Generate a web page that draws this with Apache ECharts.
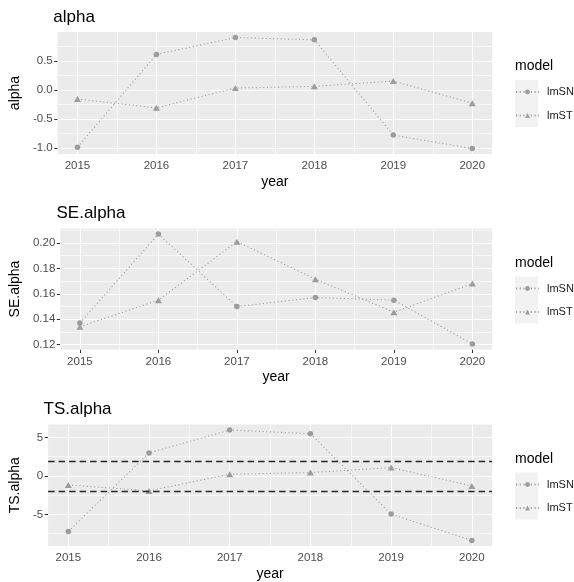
<!DOCTYPE html>
<html>
<head>
<meta charset="utf-8">
<script src="https://cdn.jsdelivr.net/npm/echarts@6/dist/echarts.min.js"></script>
<style>
  html, body { margin: 0; padding: 0; background: #ffffff; }
  #chart { width: 574px; height: 582px; }
</style>
</head>
<body>
<div id="chart"></div>
<script>
// Yearly estimates of alpha for two models, with standard errors and t statistics
const years = [2015, 2016, 2017, 2018, 2019, 2020];
const models = ['lmSN', 'lmST'];

const alphaSN = [-0.99, 0.61, 0.90, 0.86, -0.78, -1.01];
const alphaST = [-0.16, -0.31, 0.03, 0.06, 0.15, -0.23];

const seSN = [0.137, 0.207, 0.150, 0.157, 0.155, 0.1205];
const seST = [0.134, 0.155, 0.201, 0.1715, 0.1455, 0.168];

const tsSN = [-7.23, 2.99, 5.97, 5.49, -4.97, -8.40];
const tsST = [-1.17, -1.95, 0.22, 0.43, 1.08, -1.30];

// tick values and minor grid values
const yearTicks = [2015, 2016, 2017, 2018, 2019, 2020];
const yearMinor = [2015.5, 2016.5, 2017.5, 2018.5, 2019.5];
const alphaTicks = [-1.0, -0.5, 0.0, 0.5];
const alphaMinor = [-0.75, -0.25, 0.25, 0.75];
const seTicks = [0.12, 0.14, 0.16, 0.18, 0.20];
const seMinor = [0.13, 0.15, 0.17, 0.19, 0.21];
const tsTicks = [-5, 0, 5];
const tsMinor = [-7.5, -2.5, 2.5];
// critical values for the t statistic
const tsBands = [-1.96, 1.96];

const FONT = '"Liberation Sans", Arial, Helvetica, sans-serif';
const PANEL_BG = '#EBEBEB';
const POINT = '#9C9C9C';

const panels = [
  { name: 'alpha', sn: alphaSN, st: alphaST, ticks: alphaTicks, minor: alphaMinor, digits: 1,
    left: 53.3, top: 32, height: 122, titleTop: 9, nameGap: 30 },
  { name: 'SE.alpha', sn: seSN, st: seST, ticks: seTicks, minor: seMinor, digits: 2,
    left: 56.5, top: 228.5, height: 121, titleTop: 204.5, nameGap: 34.5 },
  { name: 'TS.alpha', sn: tsSN, st: tsST, ticks: tsTicks, minor: tsMinor, digits: 0,
    left: 43.5, top: 424.5, height: 121.5, titleTop: 401, nameGap: 22, bands: tsBands }
];

const xMin = years[0] - 0.05 * (years[years.length - 1] - years[0]);
const xMax = years[years.length - 1] + 0.05 * (years[years.length - 1] - years[0]);

const grids = [], xAxes = [], yAxes = [], series = [], titles = [], legends = [], graphics = [];

panels.forEach((p, i) => {
  const all = p.sn.concat(p.st);
  const lo = Math.min(...all), hi = Math.max(...all);
  const pad = 0.05 * (hi - lo);
  const yMin = lo - pad, yMax = hi + pad;

  grids.push({
    left: p.left, right: 82, top: p.top, height: p.height,
    show: true, backgroundColor: PANEL_BG, borderWidth: 0
  });

  xAxes.push({
    type: 'value', gridIndex: i, min: xMin, max: xMax,
    name: 'year', nameLocation: 'middle', nameGap: 21,
    nameTextStyle: { fontFamily: FONT, fontSize: 14, color: '#000000' },
    axisLine: { show: false },
    axisTick: { show: true, length: 3.5, customValues: yearTicks, lineStyle: { color: '#333333', width: 1 } },
    axisLabel: { customValues: yearTicks, margin: 6, fontFamily: FONT, fontSize: 11.5, color: '#4D4D4D',
      formatter: v => String(Math.round(v)) },
    splitLine: { show: false }
  });

  yAxes.push({
    type: 'value', gridIndex: i, min: yMin, max: yMax,
    name: p.name, nameLocation: 'middle', nameGap: p.nameGap, nameRotate: 90,
    nameTextStyle: { fontFamily: FONT, fontSize: 14, color: '#000000' },
    axisLine: { show: false },
    axisTick: { show: true, length: 3.5, customValues: p.ticks, lineStyle: { color: '#333333', width: 1 } },
    axisLabel: { customValues: p.ticks, margin: 5, fontFamily: FONT, fontSize: 11.5, color: '#4D4D4D',
      formatter: v => v.toFixed(p.digits) },
    splitLine: { show: false }
  });

  // panel grid lines, kept beneath the data
  const major = { color: '#FFFFFF', width: 1.1, type: 'solid' };
  const minorStyle = { color: '#FFFFFF', width: 0.6, type: 'solid' };
  const gridLines = []
    .concat(yearMinor.map(v => ({ xAxis: v, lineStyle: minorStyle })))
    .concat(p.minor.filter(v => v > yMin && v < yMax).map(v => ({ yAxis: v, lineStyle: minorStyle })))
    .concat(yearTicks.map(v => ({ xAxis: v, lineStyle: major })))
    .concat(p.ticks.map(v => ({ yAxis: v, lineStyle: major })));

  series.push({
    type: 'line', name: 'grid-' + i, xAxisIndex: i, yAxisIndex: i, data: [], z: 1, silent: true,
    markLine: { silent: true, z: 1, symbol: ['none', 'none'], label: { show: false }, animation: false,
      emphasis: { disabled: true }, data: gridLines }
  });

  const lineStyle = { color: POINT, width: 1.1, type: [1.1, 2.6] };
  series.push({
    type: 'line', name: models[0], xAxisIndex: i, yAxisIndex: i, z: 3,
    data: years.map((y, k) => [y, p.sn[k]]),
    symbol: 'circle', symbolSize: 5.5, showSymbol: true,
    itemStyle: { color: POINT }, lineStyle: lineStyle, emphasis: { disabled: true }
  });
  series.push({
    type: 'line', name: models[1], xAxisIndex: i, yAxisIndex: i, z: 3,
    data: years.map((y, k) => [y, p.st[k]]),
    symbol: 'triangle', symbolSize: [7, 6], showSymbol: true,
    itemStyle: { color: POINT }, lineStyle: lineStyle, emphasis: { disabled: true }
  });

  if (p.bands) {
    series.push({
      type: 'line', name: 'bands-' + i, xAxisIndex: i, yAxisIndex: i, data: [], z: 4, silent: true,
      markLine: { silent: true, z: 6, symbol: ['none', 'none'], label: { show: false }, animation: false,
        emphasis: { disabled: true },
        lineStyle: { color: '#262626', width: 1.3, type: [6.5, 4] },
        data: p.bands.map(v => ({ yAxis: v })) }
    });
  }

  titles.push({
    text: p.name, left: p.left, top: p.titleTop, padding: 0,
    textStyle: { fontFamily: FONT, fontSize: 17, fontWeight: 'normal', color: '#000000' }
  });

  // legend block beside each panel
  const modelTop = p.top + 27.5;
  titles.push({
    text: 'model', left: 515, top: modelTop, padding: 0,
    textStyle: { fontFamily: FONT, fontSize: 14, fontWeight: 'normal', color: '#000000' }
  });
  const boxTop = modelTop + 20.5;
  graphics.push({
    type: 'rect', left: 515, top: boxTop, z: -1,
    shape: { width: 23, height: 47 }, style: { fill: '#F2F2F2' }
  });
  legends.push({
    data: models, orient: 'vertical', left: 515, top: boxTop + 6.5, padding: 0,
    itemWidth: 23, itemHeight: 6, itemGap: 12.5, selectedMode: false,
    textStyle: { fontFamily: FONT, fontSize: 11, color: '#1A1A1A', padding: [0, 0, 0, 3] }
  });
});

const chart = echarts.init(document.getElementById('chart'), null, { renderer: 'canvas' });
chart.setOption({
  animation: false,
  backgroundColor: '#FFFFFF',
  title: titles,
  legend: legends,
  grid: grids,
  xAxis: xAxes,
  yAxis: yAxes,
  series: series,
  graphic: graphics
});
</script>
</body>
</html>
